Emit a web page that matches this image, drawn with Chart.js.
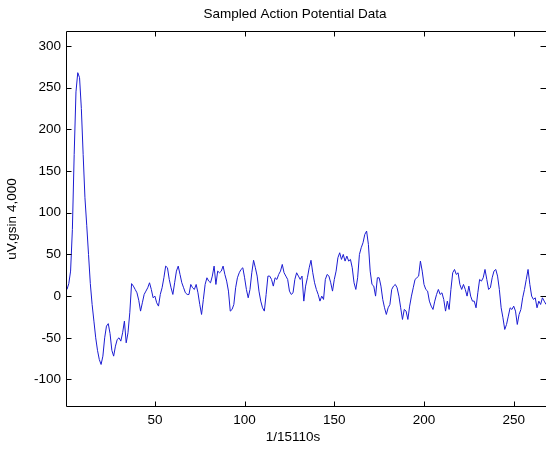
<!DOCTYPE html>
<html>
<head>
<meta charset="utf-8">
<script src="https://cdn.jsdelivr.net/npm/chart.js@4.4.1/dist/chart.umd.min.js"></script>
<style>
  html, body { margin: 0; padding: 0; background: #fff; overflow: hidden; }
</style>
</head>
<body>
<canvas id="myChart" width="546" height="449"></canvas>
<script>
// values, one per sample (x = 1, 2, 3, ...)
const samples = [
  8, 15, 30, 80, 170, 245, 268, 262, 225, 170,
  118, 85, 50, 15, -10, -30, -50, -65, -76, -82,
  -72, -50, -36, -33, -45, -65, -72, -60, -52, -50,
  -54, -44, -30, -56, -44, -20, 15, 12, 8, 4,
  -5, -18, -8, 2, 6, 10, 16, 8, -2, 0,
  -8, -12, 2, 10, 22, 36, 34, 20, 10, 2,
  16, 30, 36, 26, 16, 10, 4, 2, 2, 14,
  10, 8, 14, 4, -10, -22, -4, 14, 22, 18,
  16, 24, 36, 14, 30, 28, 30, 36, 26, 18,
  6, -18, -16, -10, 10, 22, 28, 32, 34, 22,
  8, -2, 8, 28, 43, 34, 24, 6, -6, -14,
  -18, 2, 24, 24, 20, 12, 22, 20, 26, 30,
  38, 28, 24, 20, 6, 2, 4, 20, 28, 24,
  20, 24, -6, 12, 22, 34, 43, 28, 16, 8,
  2, -6, 0, -4, 20, 26, 24, 16, 6, 20,
  30, 46, 52, 44, 50, 42, 48, 42, 44, 34,
  16, 8, 22, 50, 58, 64, 74, 78, 62, 30,
  14, 12, 0, 22, 22, 12, -4, -14, -22, -14,
  -10, 8, 12, 14, 10, 0, -14, -28, -16, -18,
  -28, -12, 0, 10, 20, 22, 24, 42, 30, 14,
  8, 6, -6, -12, -16, -6, 2, 8, 2, 4,
  -4, -18, -6, -16, 8, 28, 32, 26, 28, 14,
  8, 14, 8, 0, 12, 0, -6, -6, -14, 4,
  20, 18, 22, 32, 20, 8, 10, 22, 30, 32,
  24, 8, -14, -26, -40, -34, -24, -14, -16, -12,
  -18, -34, -22, -16, -2, 8, 20, 32, 14, 0,
  -4, -2, -14, -6, -10, -2, -6, -10
];
const xTicks = [50, 100, 150, 200, 250];
const yTicks = [-100, -50, 0, 50, 100, 150, 200, 250, 300];

const chartTitle = 'Sampled Action Potential Data';
const xLabel = '1/15110s';
const yLabel = 'uV,gsin 4,000';

const FONT = "'Liberation Sans', Arial, sans-serif";

// matlab style box with inward tick marks, plus the title and x label
const boxPlugin = {
  id: 'matlabBox',
  afterDatasetsDraw(chart) {
    const { ctx, chartArea: a, scales: { x, y } } = chart;
    const L = Math.round(a.left) - 0.5, T = Math.round(a.top) + 0.5;
    const B = Math.round(a.bottom) - 0.5, R = Math.round(a.right) - 0.5;
    ctx.save();
    ctx.strokeStyle = '#000';
    ctx.lineWidth = 1;
    ctx.beginPath();
    ctx.moveTo(R + 2, T); ctx.lineTo(L, T); ctx.lineTo(L, B); ctx.lineTo(R + 2, B);
    xTicks.forEach((v) => {
      const px = Math.round(x.getPixelForValue(v)) + 0.5;
      ctx.moveTo(px, B); ctx.lineTo(px, B - 5);
      ctx.moveTo(px, T); ctx.lineTo(px, T + 5);
    });
    yTicks.forEach((v) => {
      const py = Math.round(y.getPixelForValue(v)) + 0.5;
      ctx.moveTo(L, py); ctx.lineTo(L + 5, py);
      ctx.moveTo(R - 5, py); ctx.lineTo(R + 1, py);
    });
    ctx.stroke();

    ctx.fillStyle = '#000';
    ctx.font = '13.5px ' + FONT;
    ctx.textAlign = 'center';
    ctx.textBaseline = 'middle';
    ctx.fillText(chartTitle, 295, 14);
    ctx.fillText(xLabel, 293, 437);
    ctx.restore();
  },
};

const ctx = document.getElementById('myChart').getContext('2d');
const myChart = new Chart(ctx, {
  type: 'line',
  data: {
    datasets: [
      {
        data: samples.map((v, i) => ({ x: i + 1, y: v })),
        borderColor: 'rgb(28,28,210)',
        borderWidth: 1,
        pointRadius: 0,
        tension: 0,
        fill: false,
      },
    ],
  },
  options: {
    responsive: false,
    animation: false,
    layout: { padding: { top: 31, left: 0, right: 0, bottom: 0 } },
    plugins: { legend: { display: false }, tooltip: { enabled: false } },
    scales: {
      x: {
        type: 'linear',
        min: 1,
        max: 268,
        border: { display: false },
        grid: { display: false, drawTicks: false },
        afterBuildTicks: (s) => { s.ticks = xTicks.map((v) => ({ value: v })); },
        afterFit: (s) => { s.height = 42; },
        ticks: { color: '#000', padding: 5, font: { family: FONT, size: 13.5 }, maxRotation: 0 },
      },
      y: {
        type: 'linear',
        min: -133,
        max: 318,
        border: { display: false },
        grid: { display: false, drawTicks: false },
        afterBuildTicks: (s) => { s.ticks = yTicks.map((v) => ({ value: v })); },
        afterFit: (s) => { s.width = 67; },
        ticks: { color: '#000', padding: 6, font: { family: FONT, size: 13.5 } },
        title: { display: true, text: yLabel, color: '#000', font: { family: FONT, size: 13.5 }, padding: { top: 4, bottom: 4 } },
      },
    },
  },
  plugins: [boxPlugin],
});
</script>
</body>
</html>
